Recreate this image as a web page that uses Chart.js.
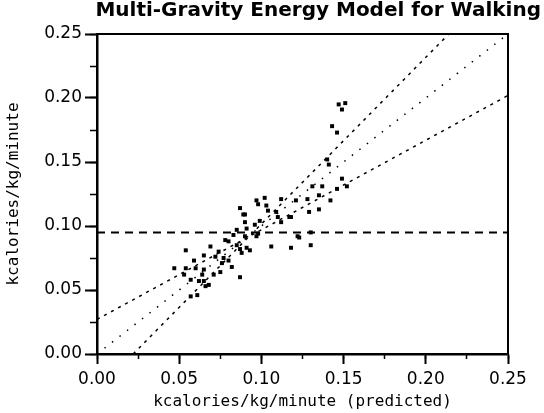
<!DOCTYPE html>
<html>
<head>
<meta charset="utf-8">
<script src="https://cdn.jsdelivr.net/npm/chart.js@4"></script>
<style>
  body { margin: 0; background: #fff; }
  canvas { display: block; }
</style>
</head>
<body>
<canvas id="walkChart" width="544" height="413"></canvas>
<script>
const predicted = [
  0.147, 0.151, 0.149, 0.143, 0.146, 0.140, 0.141, 0.149, 0.137, 0.142,
  0.135, 0.135, 0.128, 0.129, 0.121, 0.118, 0.112, 0.112, 0.102, 0.097,
  0.098, 0.103, 0.104, 0.099, 0.109, 0.090, 0.090, 0.096, 0.091, 0.098,
  0.097, 0.090, 0.123, 0.130, 0.106, 0.118, 0.130, 0.091, 0.078, 0.080,
  0.085, 0.087, 0.088, 0.093, 0.054, 0.069, 0.074, 0.065, 0.072, 0.077,
  0.080, 0.076, 0.082, 0.059, 0.047, 0.054, 0.060, 0.065, 0.075, 0.071,
  0.064, 0.053, 0.057, 0.062, 0.065, 0.068, 0.066, 0.087, 0.061, 0.057,
  0.083, 0.087, 0.089, 0.110, 0.117, 0.146, 0.152, 0.131, 0.122, 0.085
];
const measured = [
  0.195, 0.196, 0.191, 0.178, 0.173, 0.152, 0.148, 0.137, 0.131, 0.120,
  0.124, 0.113, 0.121, 0.111, 0.120, 0.107, 0.121, 0.103, 0.122, 0.120,
  0.117, 0.116, 0.112, 0.104, 0.111, 0.109, 0.103, 0.101, 0.098, 0.094,
  0.092, 0.092, 0.091, 0.095, 0.084, 0.083, 0.085, 0.083, 0.089, 0.088,
  0.085, 0.082, 0.079, 0.081, 0.081, 0.084, 0.080, 0.077, 0.076, 0.075,
  0.073, 0.071, 0.068, 0.073, 0.067, 0.067, 0.067, 0.066, 0.064, 0.062,
  0.062, 0.062, 0.058, 0.057, 0.057, 0.054, 0.053, 0.060, 0.046, 0.045,
  0.093, 0.114, 0.109, 0.107, 0.107, 0.129, 0.131, 0.131, 0.092, 0.097
];

// reference lines, endpoints
const upperX = [0.022, 0.214], upperY = [0.0, 0.25];
const identX = [0.0, 0.25],    identY = [0.0, 0.25];
const lowerX = [0.0, 0.25],    lowerY = [0.027, 0.202];
const meanX  = [0.0, 0.25],    meanY  = [0.095, 0.095];

const majorTicks = [0, 0.05, 0.10, 0.15, 0.20, 0.25];
const minorTicks = [0, 0.025, 0.05, 0.075, 0.10, 0.125, 0.15, 0.175, 0.20, 0.225, 0.25];

const pairs = (xs, ys) => xs.map((x, i) => ({ x: x, y: ys[i] }));

const tickFont = { family: 'DejaVu Sans', size: 17 };
const labelFont = { family: 'DejaVu Sans Mono', size: 16 };

function lineSet(xs, ys, dash, width) {
    return {
        data: pairs(xs, ys),
        showLine: true,
        borderColor: '#000',
        borderWidth: width,
        borderDash: dash,
        pointRadius: 0,
        fill: false
    };
}

const boxPlugin = {
    id: 'box',
    afterDraw(chart) {
        const a = chart.chartArea, ctx = chart.ctx;
        ctx.save();
        ctx.strokeStyle = '#000';
        ctx.lineWidth = 2;
        ctx.strokeRect(a.left, a.top, a.right - a.left, a.bottom - a.top);
        ctx.restore();
    }
};

new Chart(document.getElementById('walkChart'), {
    type: 'scatter',
    data: {
        datasets: [
            lineSet(upperX, upperY, [3, 5], 1.5),
            lineSet(identX, identY, [1.5, 8], 1.5),
            lineSet(lowerX, lowerY, [3, 5], 1.5),
            lineSet(meanX, meanY, [8, 6], 2),
            {
                data: pairs(predicted, measured),
                pointStyle: 'rect',
                pointRadius: 2.8,
                backgroundColor: '#000',
                borderColor: '#000',
                borderWidth: 0
            }
        ]
    },
    options: {
        responsive: false,
        animation: false,
        layout: { padding: { left: 0, right: 3, top: 0, bottom: 0 } },
        plugins: {
            legend: { display: false },
            tooltip: { enabled: false },
            title: {
                display: true,
                text: 'Multi-Gravity Energy Model for Walking',
                align: 'end',
                color: '#000',
                font: { family: 'DejaVu Sans', size: 20, weight: 'bold', lineHeight: 1 },
                padding: { top: 1, bottom: 13 }
            }
        },
        scales: {
            x: {
                type: 'linear',
                min: 0, max: 0.25,
                afterBuildTicks: s => { s.ticks = majorTicks.map(v => ({ value: v })); },
                afterFit: s => { s.height = 59; s.paddingRight = 36; s.paddingLeft = 0; },
                ticks: { color: '#000', font: tickFont, padding: 5, maxRotation: 0,
                         callback: v => v.toFixed(2) },
                grid: { drawOnChartArea: false, tickLength: 10, tickColor: '#000', tickWidth: 2 },
                border: { color: '#000', width: 2.5 },
                title: { display: true, text: 'kcalories/kg/minute (predicted)', color: '#000',
                         font: labelFont, padding: { top: 0, bottom: 2 } }
            },
            y: {
                type: 'linear',
                min: 0, max: 0.25,
                afterBuildTicks: s => { s.ticks = majorTicks.map(v => ({ value: v })); },
                afterFit: s => { s.width = 97; },
                ticks: { color: '#000', font: tickFont, padding: 3,
                         callback: v => v.toFixed(2) },
                grid: { drawOnChartArea: false, tickLength: 12, tickColor: '#000', tickWidth: 2 },
                border: { color: '#000', width: 2.5 },
                title: { display: true, text: 'kcalories/kg/minute', color: '#000',
                         font: labelFont, padding: { top: 4, bottom: 0 } }
            },
            xm: {
                type: 'linear',
                position: { y: 0 },
                min: 0, max: 0.25,
                afterBuildTicks: s => { s.ticks = minorTicks.map(v => ({ value: v })); },
                ticks: { display: false },
                grid: { drawOnChartArea: false, tickLength: 5, tickColor: '#000', tickWidth: 1.5 },
                border: { display: false }
            },
            ym: {
                type: 'linear',
                position: { x: 0 },
                min: 0, max: 0.25,
                afterBuildTicks: s => { s.ticks = minorTicks.map(v => ({ value: v })); },
                ticks: { display: false },
                grid: { drawOnChartArea: false, tickLength: 7, tickColor: '#000', tickWidth: 1.5 },
                border: { display: false }
            }
        }
    },
    plugins: [boxPlugin]
});
</script>
</body>
</html>
